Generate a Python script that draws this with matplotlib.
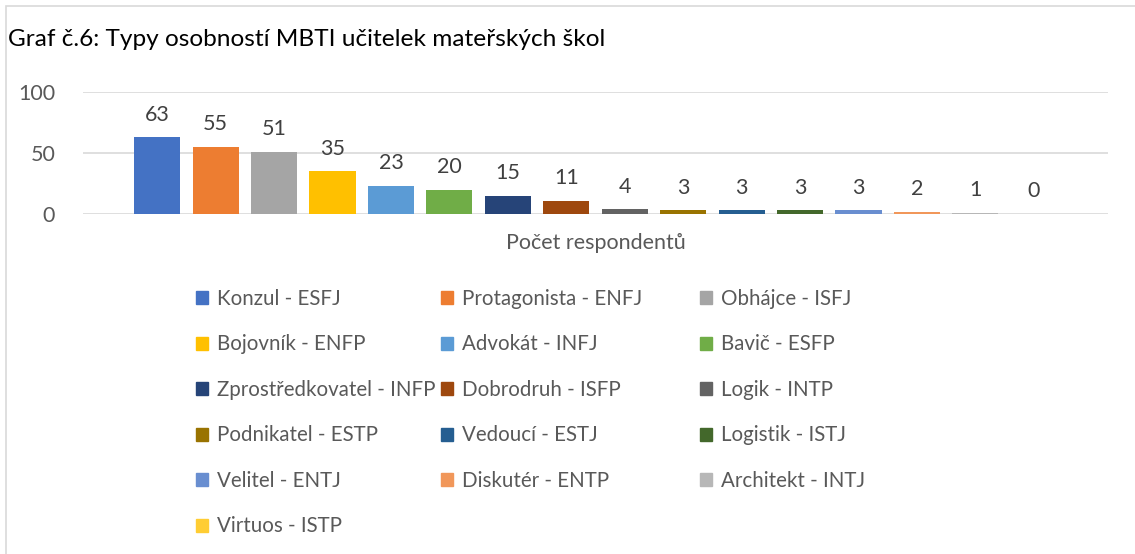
import matplotlib.pyplot as plt
from matplotlib.patches import Rectangle, Patch
import numpy as np

labels = ["Konzul - ESFJ", "Protagonista - ENFJ", "Obhájce - ISFJ",
          "Bojovník - ENFP", "Advokát - INFJ", "Bavič - ESFP",
          "Zprostředkovatel - INFP", "Dobrodruh - ISFP", "Logik - INTP",
          "Podnikatel - ESTP", "Vedoucí - ESTJ", "Logistik - ISTJ",
          "Velitel - ENTJ", "Diskutér - ENTP", "Architekt - INTJ",
          "Virtuos - ISTP"]
counts = [63, 55, 51, 35, 23, 20, 15, 11, 4, 3, 3, 3, 3, 2, 1, 0]
colors = ["#4472C4", "#ED7D31", "#A5A5A5", "#FFC000", "#5B9BD5", "#70AD47",
          "#264478", "#9E480E", "#636363", "#997300", "#255E91", "#43682B",
          "#698ED0", "#F1975A", "#B7B7B7", "#FFCD33"]
yticks = [0, 50, 100]

plt.rcParams['font.family'] = ['Lato', 'DejaVu Sans']
txt = '#595959'

fig = plt.figure(figsize=(11.35, 5.54), dpi=100)
W, H = 1135, 554

# chart frame (only top/left visible in the crop)
fig.patches.append(Rectangle((6 / W, -0.1), 1.2, 1 - 6.5 / H + 0.1,
                             transform=fig.transFigure, fill=False,
                             edgecolor='#D9D9D9', linewidth=1.2))

fig.text(8 / W, 1 - 39 / H, "Graf č.6: Typy osobností MBTI učitelek mateřských škol",
         fontsize=17.6, color='black', va='center', ha='left')

ax = fig.add_axes([83 / W, 1 - 214 / H, (1108 - 83) / W, (214 - 92) / H])
x = np.arange(len(counts))
ax.bar(x, counts, width=0.79, color=colors)
for xi, c in zip(x, counts):
    ax.annotate(str(c), (xi, c), xytext=(0, 9), textcoords='offset points',
                ha='center', va='bottom', fontsize=15.5, color='#404040')

pad = 45 / 58.5
ax.set_xlim(-0.5 - pad, len(counts) - 0.5 + pad)
ax.set_ylim(0, 100)
ax.set_yticks(yticks)
ax.set_xticks([])
ax.tick_params(axis='y', length=0, labelsize=15.5, labelcolor=txt, pad=20)
ax.grid(axis='y', color='#D9D9D9', linewidth=1.2)
ax.set_axisbelow(True)
for s in ax.spines.values():
    s.set_visible(False)
ax.set_xlabel("Počet respondentů", fontsize=15.5, color=txt, labelpad=14)

# legend, filled row by row in 3 columns
col_x = [196, 441, 700]
for col in range(3):
    idx = list(range(col, len(labels), 3))
    handles = [Patch(color=colors[i], label=labels[i]) for i in idx]
    fig.legend(handles=handles, loc='upper left',
               bbox_to_anchor=(col_x[col] / W, 1 - 289 / H),
               frameon=False, fontsize=14.8, labelcolor=txt,
               handlelength=0.6, handleheight=0.6, handletextpad=0.4,
               labelspacing=1.24, borderaxespad=0, borderpad=0)

fig.savefig('out.png', dpi=100)
